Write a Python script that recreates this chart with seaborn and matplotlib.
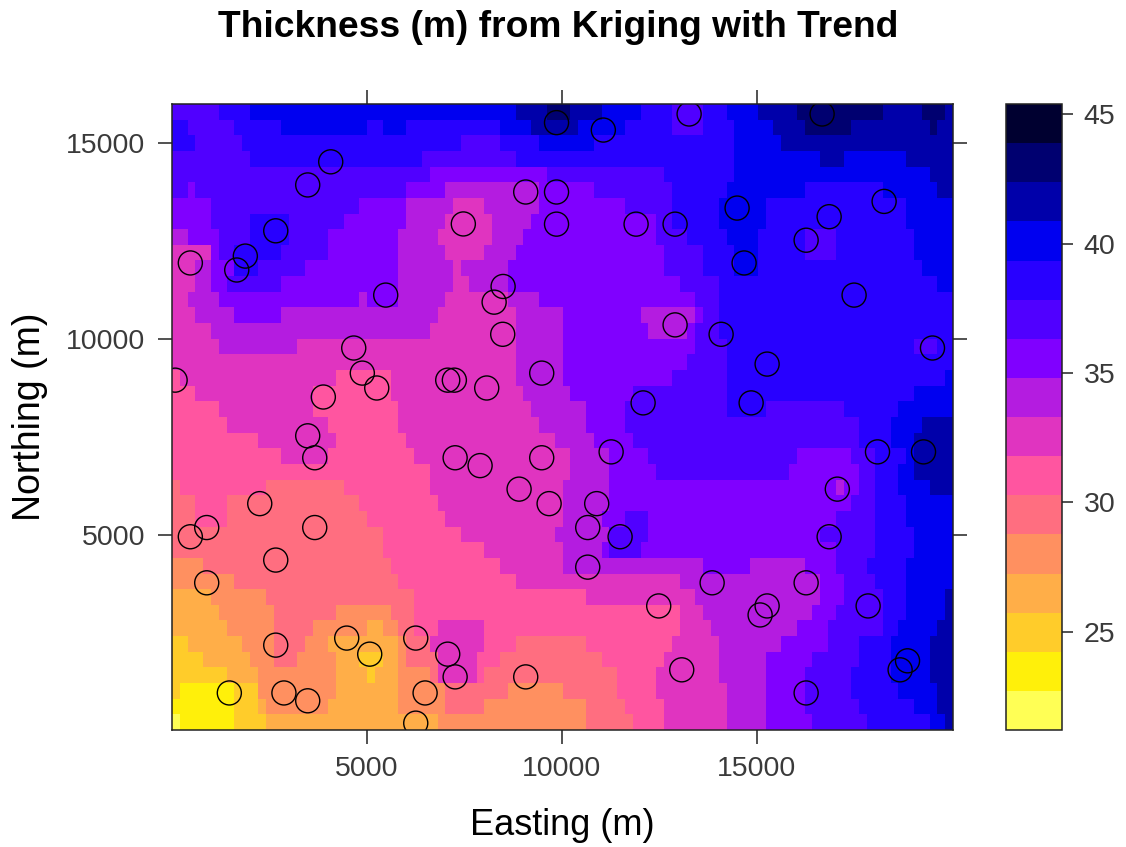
import matplotlib
matplotlib.use("Agg")
import matplotlib.pyplot as plt
from matplotlib.colors import ListedColormap
import numpy as np
import pandas as pd
import seaborn as sns

title = "Thickness (m) from Kriging with Trend"
xlabel = "Easting (m)"
ylabel = "Northing (m)"
xticks = [5000, 10000, 15000]
yticks = [5000, 10000, 15000]
cbar_ticks = [25, 30, 35, 40, 45]

band_colors = ["#FFFF55", "#FFF00A", "#FFCC2A", "#FFAE48", "#FF9060", "#FF6E80",
               "#FF55A0", "#E034C0", "#B41CE0", "#8000FF", "#5000FF", "#2800FF",
               "#0000F0", "#0000AA", "#000070", "#000030"]
band_floor = [21.2, 22.7, 24.2, 25.7, 27.3, 28.8, 30.3, 31.8, 33.3,
              34.8, 36.3, 37.8, 39.4, 40.9, 42.4, 43.9]
band_top = 45.4

# each row, north to south: thickness band : last column (200 m columns)
rows = [
"10:6 11:10 12:44 13:48 14:51 13:55 12:60 11:64 10:68 11:71 12:75 13:80 14:91 13:96 14:99 13:100",
"11:2 10:8 11:14 12:25 11:27 12:30 11:42 12:46 13:52 12:58 11:64 10:68 11:72 12:77 13:81 14:87 13:97 14:98 13:100",
"11:3 10:9 11:37 10:42 11:47 12:54 11:72 12:78 13:100",
"10:10 11:32 10:44 11:48 11:72 12:83 13:86 12:94 13:100",
"10:33 9:48 10:63 11:72 12:97 13:100",
"10:2 9:3 10:30 9:35 8:47 9:54 10:64 11:71 12:81 11:91 12:98 13:100",
"9:5 10:24 9:30 8:36 7:40 8:47 9:58 10:64 11:70 12:76 11:94 12:100",
"9:5 10:10 11:15 10:22 9:30 8:35 7:41 8:46 9:62 10:64 11:70 12:76 11:94 12:100",
"8:2 9:6 10:10 11:15 10:20 9:29 8:34 7:41 8:45 9:62 10:66 11:71 12:75 11:81 10:85 11:95 12:100",
"7:5 9:6 10:8 11:14 10:20 9:29 8:35 7:40 8:44 9:63 10:68 11:72 12:75 11:81 10:85 11:95 12:100",
"7:3 8:5 9:8 11:11 10:17 9:29 8:36 7:37 8:43 9:63 10:68 11:72 12:75 11:96 12:100",
"7:3 8:5 9:7 10:14 9:29 8:36 7:38 8:43 9:65 10:70 11:98 12:100",
"7:2 8:6 9:24 8:25 9:29 8:35 7:43 8:47 9:67 10:70 11:100",
"7:3 8:8 9:14 8:34 7:44 8:50 9:60 8:67 9:68 10:70 11:100",
"7:5 8:33 7:44 8:50 9:61 8:66 9:67 10:70 11:100",
"7:6 8:16 7:44 8:50 9:67 10:71 11:95 10:98 11:100",
"7:44 8:50 9:66 10:71 11:100",
"6:1 7:21 6:28 7:44 8:50 9:64 10:71 11:99 12:100",
"6:3 7:18 6:28 7:45 8:51 9:59 10:71 11:95 12:100",
"6:6 7:18 6:29 7:46 8:53 9:58 10:71 11:76 10:86 11:93 12:100",
"6:7 7:20 6:29 7:47 8:53 9:58 10:88 11:92 12:96 13:100",
"6:11 7:21 6:30 7:49 8:54 9:59 10:88 11:92 12:95 13:100",
"6:14 7:20 6:31 7:51 8:56 9:61 10:80 9:87 10:90 11:94 12:95 13:100",
"6:33 7:51 8:56 9:62 10:79 9:88 10:90 11:93 12:95 13:100",
"5:1 6:12 5:22 6:33 7:50 8:56 9:85 8:86 9:88 10:90 11:93 12:97 13:100",
"5:3 6:7 5:24 6:34 7:50 8:56 9:87 10:90 11:94 12:100",
"5:3 6:7 5:25 6:35 7:50 8:55 9:58 10:61 9:85 10:90 11:94 12:100",
"5:27 6:37 7:49 8:56 10:61 9:83 10:90 11:95 12:100",
"5:27 6:40 7:50 8:55 9:56 10:60 9:85 10:90 11:95 12:100",
"4:4 5:28 6:42 7:50 8:68 9:74 8:81 9:85 10:89 11:94 12:100",
"4:8 5:29 6:44 7:65 8:83 9:86 10:90 11:94 12:100",
"3:5 4:12 5:31 6:53 7:67 8:83 9:86 10:91 11:94 12:99 13:100",
"3:6 4:13 5:21 4:28 5:31 6:65 7:68 8:82 9:85 10:91 11:94 12:99 13:100",
"3:7 4:13 5:18 4:25 3:27 4:29 5:31 6:34 7:40 6:65 7:69 8:80 9:84 10:91 11:93 12:98 13:100",
"2:2 3:9 4:13 5:17 4:20 3:29 4:30 5:33 7:40 6:44 5:53 6:64 7:70 8:78 9:84 10:88 11:92 12:97 13:100",
"2:4 3:10 4:13 5:16 4:21 3:24 2:27 3:29 4:30 5:34 7:39 6:42 5:55 6:63 7:70 8:76 9:82 10:88 11:92 12:97 13:100",
"2:7 3:11 4:21 3:25 2:26 3:29 4:33 5:34 7:39 6:40 5:57 6:62 7:70 8:76 9:81 10:87 11:92 12:97 13:100",
"2:1 1:8 2:11 4:21 3:29 4:35 5:43 4:50 5:57 6:62 7:71 8:76 9:81 10:87 11:93 12:98 13:100",
"1:8 2:11 3:12 4:20 3:29 4:35 5:40 4:53 5:58 6:63 7:71 8:76 9:81 10:88 11:95 12:98 13:100",
"0:1 1:8 2:12 3:34 4:53 5:59 6:63 7:71 8:76 9:82 10:89 11:97 12:99 13:100",
]

well_x = [9860, 11060, 13260, 16670, 3480, 4070, 9070, 9860, 9860, 7470, 2660, 1880, 1660, 470,
          11900, 12900, 14490, 16850, 18260, 16260, 14670, 5480, 8490, 8260, 8480, 17490, 12900,
          14080, 4660, 4880, 5250, 3880, 80, 7070, 7240, 8070, 9480, 15260, 19500, 12080, 14850,
          3480, 3660, 7260, 7900, 9480, 11260, 18090, 19270, 17060, 8900, 9670, 10890, 2250, 890,
          470, 3660, 10660, 11490, 16850, 2660, 10660, 890, 13850, 16260, 12480, 17850, 15260,
          15080, 2660, 4480, 6250, 5070, 7070, 18860, 18670, 13070, 7260, 9070, 1470, 2870, 3480,
          6490, 16260, 6250]
well_y = [15520, 15330, 15740, 15740, 13930, 14520, 13750, 13750, 12930, 12935, 12760, 12115, 11760,
          11940, 12930, 12930, 13340, 13120, 13510, 12520, 11940, 11120, 11340, 10940, 10120, 11120,
          10360, 10120, 9770, 9130, 8750, 8520, 8950, 8950, 8950, 8750, 9130, 9360, 9770, 8370, 8370,
          7530, 6970, 6970, 6770, 6970, 7120, 7120, 7120, 6170, 6170, 5800, 5800, 5800, 5190,
          4955, 5190, 5190, 4955, 4955, 4360, 4180, 3780, 3780, 3780, 3190, 3190, 3190,
          2960, 2190, 2370, 2370, 1960, 1960, 1790, 1560, 1560, 1380, 1380, 970, 970, 770,
          970, 970, 200]

W, H = 1126, 847
sns.set_style("white")
plt.rcParams["font.family"] = ["Liberation Sans", "DejaVu Sans"]
GRAY = "#3a3a3a"
LINE = "#222222"

mids = [(a + b) / 2 for a, b in zip(band_floor, band_floor[1:] + [band_top])]
grid = []
for row in rows:
    cells, start = [], 0
    for seg in row.split():
        band, end = map(int, seg.split(":"))
        cells += [mids[band]] * (end - start)
        start = end
    grid.append(cells)
df = pd.DataFrame(grid)

fig = plt.figure(figsize=(W / 100, H / 100), dpi=100)
rect = [172 / W, 1 - 730 / H, 781 / W, 626 / H]
ax = fig.add_axes(rect)
cax = fig.add_axes([1006 / W, 1 - 730 / H, 55.5 / W, 626 / H])
sns.heatmap(df, ax=ax, cmap=ListedColormap(band_colors), vmin=band_floor[0], vmax=band_top,
            cbar_ax=cax, xticklabels=False, yticklabels=False,
            cbar_kws={"ticks": cbar_ticks, "drawedges": False})
ax.set_xlabel("")
ax.set_ylabel("")
ax.tick_params(left=False, bottom=False)

ov = fig.add_axes(rect, facecolor="none")
sns.scatterplot(x=well_x, y=well_y, ax=ov, s=300, marker="o", facecolor="none",
                edgecolor="black", linewidth=1.0, clip_on=True, legend=False)
ov.set_xlim(0, 20026)
ov.set_ylim(25, 15995)
ov.set_xticks(xticks)
ov.set_yticks(yticks)
ov.tick_params(axis="both", which="major", direction="out", length=10, width=1.1, color=LINE,
               top=True, right=True, bottom=True, left=True, labelsize=20.5, labelcolor=GRAY)
ov.tick_params(axis="x", pad=9)
ov.tick_params(axis="y", pad=9)
for s in ov.spines.values():
    s.set_visible(True)
    s.set_color(LINE)
    s.set_linewidth(1.1)
ov.set_xlabel(xlabel, fontsize=26, color="black", va="baseline")
ov.xaxis.set_label_coords((562 - 172) / 781, (730 - 835) / 626)
ov.set_ylabel(ylabel, fontsize=27, color="black", va="baseline")
ov.yaxis.set_label_coords((40 - 172) / 781, (730 - 417) / 626)

cb = ax.collections[0].colorbar
cb.outline.set_visible(True)
cb.outline.set_edgecolor(LINE)
cb.outline.set_linewidth(1.1)
cb.ax.tick_params(direction="out", length=8, width=1.1, color=LINE, right=True,
                  labelsize=20.5, labelcolor=GRAY, pad=8)

fig.text(558 / W, 1 - 37 / H, title, fontsize=26.8, fontweight="bold", ha="center", va="baseline", color="black")
fig.savefig("out.png", dpi=100)
